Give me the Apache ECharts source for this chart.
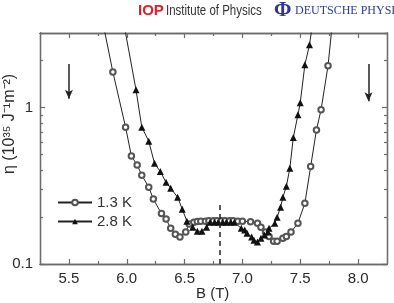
<!DOCTYPE html>
<html>
<head>
<meta charset="utf-8">
<script src="https://cdn.jsdelivr.net/npm/echarts@6/dist/echarts.min.js"></script>
<style>
html, body { margin: 0; padding: 0; background: #fff; }
#main { width: 394px; height: 303px; }
</style>
</head>
<body>
<div id="main"></div>
<script>
// 1.3 K (open circles)
var b13 = [5.79, 5.88, 5.99, 6.04, 6.09, 6.13, 6.19, 6.23, 6.30, 6.34, 6.38, 6.42, 6.46, 6.51, 6.54,
    6.58, 6.61, 6.64, 6.68, 6.71, 6.75, 6.78, 6.82, 6.85, 6.89, 6.92, 6.96, 7.00, 7.07, 7.13,
    7.16, 7.20, 7.23, 7.27, 7.30, 7.35, 7.38, 7.42, 7.48, 7.54, 7.59, 7.64, 7.68, 7.74, 7.78];
var eta13 = [3.6, 1.69, 0.75, 0.49, 0.43, 0.37, 0.31, 0.26, 0.21, 0.194, 0.169, 0.155, 0.149, 0.160, 0.180,
    0.185, 0.187, 0.188, 0.188, 0.189, 0.189, 0.189, 0.189, 0.189, 0.189, 0.189, 0.188, 0.188, 0.186, 0.182,
    0.172, 0.160, 0.150, 0.140, 0.140, 0.146, 0.150, 0.160, 0.182, 0.245, 0.42, 0.72, 0.97, 1.85, 3.6];
// 2.8 K (filled triangles)
var b28 = [5.97, 6.08, 6.13, 6.19, 6.24, 6.29, 6.34, 6.38, 6.44, 6.48, 6.52, 6.57, 6.61, 6.65, 6.69,
    6.72, 6.76, 6.79, 6.83, 6.86, 6.90, 6.93, 6.99, 7.02, 7.04, 7.08, 7.10, 7.13, 7.16, 7.19,
    7.22, 7.23, 7.28, 7.30, 7.33, 7.35, 7.38, 7.41, 7.44, 7.48, 7.50, 7.54, 7.58, 7.61];
var eta28 = [3.6, 1.30, 0.75, 0.61, 0.44, 0.39, 0.333, 0.305, 0.267, 0.224, 0.188, 0.172, 0.162, 0.162, 0.172,
    0.185, 0.185, 0.185, 0.185, 0.185, 0.185, 0.185, 0.169, 0.165, 0.157, 0.149, 0.142, 0.138, 0.146, 0.153,
    0.160, 0.169, 0.182, 0.199, 0.231, 0.267, 0.314, 0.409, 0.644, 0.90, 1.076, 1.88, 2.52, 3.6];

var xMajor = [5.5, 6.0, 6.5, 7.0, 7.5, 8.0];
var xMinor = [5.75, 6.25, 6.75, 7.25, 7.75];
var yMajor = [0.1, 1];
var yMinor = [0.2, 0.3, 0.4, 0.5, 0.6, 0.7, 0.8, 0.9, 2, 3];

var seriesNames = ['1.3 K', '2.8 K'];
var dashB = 6.8;
var arrowsB = [5.5, 8.09];

function pairs(xs, ys) {
    var out = [];
    for (var i = 0; i < xs.length; i++) out.push([xs[i], ys[i]]);
    return out;
}

var myChart = echarts.init(document.getElementById('main'));

var axisColor = '#6b6b6b';
var labelFont = { color: '#2a2a2a', fontSize: 15, fontFamily: 'Liberation Sans, Arial, sans-serif' };

function xAx(pos, ticks, len, withLabel) {
    return {
        type: 'value', position: pos, min: 5.25, max: 8.25,
        axisLine: { show: true, onZero: false, lineStyle: { color: axisColor, width: 1.3 } },
        axisTick: { show: true, inside: true, length: len, customValues: ticks, lineStyle: { color: axisColor, width: 1.2 } },
        axisLabel: withLabel ? Object.assign({ show: true, margin: 7, customValues: ticks,
            formatter: function (v) { return v.toFixed(1); } }, labelFont) : { show: false },
        splitLine: { show: false }
    };
}
function yAx(pos, ticks, len, withLabel) {
    return {
        type: 'log', logBase: 10, position: pos, min: 0.1, max: 3,
        axisLine: { show: true, onZero: false, lineStyle: { color: axisColor, width: 1.3 } },
        axisTick: { show: true, inside: true, length: len, customValues: ticks, lineStyle: { color: axisColor, width: 1.2 } },
        axisLabel: withLabel ? Object.assign({ show: true, margin: 7, customValues: ticks,
            formatter: function (v) { return v < 0.5 ? '0.1' : '1'; } }, labelFont) : { show: false },
        splitLine: { show: false }
    };
}

var option = {
    animation: false,
    grid: { left: 40, right: 7, top: 33, bottom: 39, containLabel: false },
    xAxis: [
        xAx('bottom', xMajor, 5, true),
        xAx('bottom', xMinor, 3, false),
        xAx('top', xMajor, 5, false),
        xAx('top', xMinor, 3, false)
    ],
    yAxis: [
        yAx('left', yMajor, 5, true),
        yAx('left', yMinor, 3, false),
        yAx('right', yMajor, 5, false),
        yAx('right', yMinor, 3, false)
    ],
    legend: {
        orient: 'vertical', left: 52, top: 190, itemGap: 4,
        itemWidth: 34, itemHeight: 7,
        textStyle: { color: '#333', fontSize: 15, fontFamily: 'Liberation Sans, Arial, sans-serif' },
        data: seriesNames
    },
    graphic: [
        { type: 'text', left: 138, top: 3, style: { text: 'IOP', fill: '#e3202a', font: 'bold 15px "Liberation Sans", Arial' } },
        // header text is condensed in the original
        { type: 'text', x: 166, y: 4, scaleX: 0.82,
          style: { text: 'Institute of Physics', fill: '#333', font: '14px "Liberation Sans", Arial', textVerticalAlign: 'top' } },
        { type: 'text', left: 274, top: 0, style: { text: 'Φ', fill: '#2e3a92', font: 'bold 21px "Liberation Serif", serif' } },
        { type: 'text', left: 295, top: 5, style: { text: 'DEUTSCHE PHYSIKALISCHE GESELLSCHAFT', fill: '#2e3a92', font: '12px "Liberation Serif", serif' } },
        { type: 'text', x: 2, y: 174, rotation: Math.PI / 2,
          style: { text: 'η (10³⁵ J⁻¹m⁻²)', fill: '#2a2a2a', font: '16px "Liberation Sans", Arial' } },
        { type: 'text', left: 196, top: 286, style: { text: 'B (T)', fill: '#2a2a2a', font: '15px "Liberation Sans", Arial' } }
    ],
    series: [{
        name: seriesNames[0],
        type: 'line',
        data: pairs(b13, eta13),
        symbol: 'emptyCircle',
        symbolSize: 5.5,
        showAllSymbol: true,
        clip: true,
        lineStyle: { color: '#222', width: 1 },
        itemStyle: { color: '#555', borderWidth: 0.8 },
        markLine: {
            silent: true, symbol: 'none', label: { show: false },
            lineStyle: { color: '#222', type: [5, 4], width: 1.5 },
            data: [[{ coord: [dashB, 0.1] }, { coord: [dashB, 0.25] }]]
        }
    }, {
        name: seriesNames[1],
        type: 'line',
        data: pairs(b28, eta28),
        symbol: 'triangle',
        symbolSize: 7,
        showAllSymbol: true,
        clip: true,
        lineStyle: { color: '#222', width: 1 },
        itemStyle: { color: '#111' },
        markLine: {
            silent: true, symbol: ['none', 'arrow'], symbolSize: [6, 9], label: { show: false },
            lineStyle: { color: '#222', type: 'solid', width: 1.5 },
            data: [
                [{ coord: [arrowsB[0], 1.9] }, { coord: [arrowsB[0], 1.14] }],
                [{ coord: [arrowsB[1], 1.9] }, { coord: [arrowsB[1], 1.1] }]
            ]
        }
    }]
};

myChart.setOption(option);
</script>
</body>
</html>
